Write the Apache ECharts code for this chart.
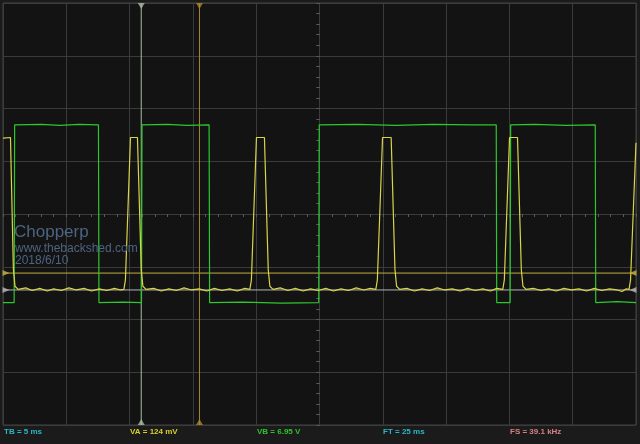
<!DOCTYPE html>
<html><head><meta charset="utf-8">
<script src="https://cdn.jsdelivr.net/npm/echarts@6/dist/echarts.min.js"></script>
<style>html,body{margin:0;padding:0;background:#1b1b1b;}#c{width:640px;height:444px;}</style>
</head><body><div id="c"></div>
<script>
// time in ms (5 ms/div, trigger at centre), amplitude in divisions
const chA = [ // yellow trace
  [-25,1.44],[-24.41,1.45],[-24.18,-1.05],[-24.05,-1.37],[-23.8,-1.43],
  [-23.2,-1.40],[-22.7,-1.45],[-22.1,-1.41],[-21.5,-1.46],[-21.0,-1.42],[-20.4,-1.45],[-19.8,-1.40],
  [-19.2,-1.44],[-18.6,-1.41],[-18.0,-1.46],[-17.4,-1.42],[-16.8,-1.45],[-16.2,-1.41],[-15.7,-1.44],
  [-15.45,-1.43],[-15.33,-1.25],[-14.93,1.45],[-14.38,1.45],[-14.08,-1.05],[-13.95,-1.37],[-13.7,-1.43],
  [-13.1,-1.41],[-12.5,-1.46],[-11.9,-1.42],[-11.3,-1.45],[-10.7,-1.40],[-10.1,-1.44],[-9.5,-1.42],
  [-8.9,-1.46],[-8.3,-1.41],[-7.7,-1.45],[-7.1,-1.42],[-6.5,-1.46],[-5.9,-1.41],
  [-5.5,-1.43],[-5.38,-1.25],[-4.98,1.45],[-4.35,1.45],[-4.05,-1.05],[-3.92,-1.37],[-3.67,-1.43],
  [-3.1,-1.40],[-2.5,-1.45],[-1.9,-1.41],[-1.3,-1.46],[-0.7,-1.42],[-0.1,-1.45],[0.5,-1.41],
  [1.1,-1.46],[1.7,-1.42],[2.3,-1.45],[2.9,-1.40],[3.5,-1.44],[4.0,-1.41],
  [4.45,-1.43],[4.57,-1.25],[4.98,1.45],[5.66,1.45],[5.96,-1.05],[6.09,-1.37],[6.34,-1.43],
  [6.9,-1.41],[7.5,-1.46],[8.1,-1.42],[8.7,-1.45],[9.3,-1.40],[9.9,-1.44],[10.5,-1.42],
  [11.1,-1.46],[11.7,-1.41],[12.3,-1.45],[12.9,-1.42],[13.5,-1.46],[14.0,-1.41],
  [14.48,-1.43],[14.6,-1.25],[15.01,1.45],[15.64,1.45],[15.94,-1.05],[16.07,-1.37],[16.32,-1.43],
  [16.9,-1.41],[17.5,-1.45],[18.1,-1.42],[18.7,-1.46],[19.3,-1.41],[19.9,-1.44],[20.5,-1.42],
  [21.1,-1.46],[21.7,-1.41],[22.3,-1.45],[22.9,-1.42],[23.5,-1.44],[23.9,-1.47],[24.2,-1.42],
  [24.45,-1.43],[24.57,-1.25],[25,1.35]
];
const chB = [ // green trace
  [-25,-1.68],[-24.12,-1.68],[-24.08,1.69],[-22,1.70],[-20.5,1.68],[-19,1.70],[-17.46,1.69],
  [-17.42,-1.68],[-15.5,-1.67],[-14.06,-1.68],[-14.02,1.69],[-12,1.70],[-10.5,1.68],[-8.72,1.69],
  [-8.68,-1.68],[-6,-1.67],[-3,-1.69],[-0.06,-1.68],[-0.02,1.69],[3,1.70],[6,1.68],[9,1.70],[12,1.69],
  [13.96,1.69],[14.0,-1.68],[15.06,-1.68],[15.1,1.69],[17,1.70],[19.5,1.68],[21.78,1.69],
  [21.82,-1.68],[23.5,-1.66],[25,-1.68]
];
const cursorA = -14.08, cursorB = -9.48;
const trigLevel = -1.12, refLevel = -1.44;
const xRange = [-25, 25], yRange = [-4, 4];
const statusTexts = [
  {t:'TB = 5 ms', c:'#2ab8c6'},
  {t:'VA = 124 mV', c:'#d8cf2a'},
  {t:'VB = 6.95 V', c:'#2cc42c'},
  {t:'FT = 25 ms', c:'#2ab8c6'},
  {t:'FS = 39.1 kHz', c:'#d88080'}
];
const watermark = ['Chopperp','www.thebackshed.com','2018/6/10'];

const GRID = '#3b3b3b', TICK = '#5a5a5a';
const chart = echarts.init(document.getElementById('c'), null, {renderer:'canvas'});
function xAx(inside, pos, main){
  return {type:'value', min:xRange[0], max:xRange[1], interval:5, position:pos,
    axisLine:{show:main, onZero:true, lineStyle:{color:GRID}},
    axisTick:{show:true, inside:inside, length:3, lineStyle:{color:TICK}},
    minorTick:{show:true, splitNumber:5, length:3, lineStyle:{color:TICK}},
    axisLabel:{show:false}, splitLine:{show:main, lineStyle:{color:GRID, width:1}}};
}
function yAx(inside, pos, main){
  return {type:'value', min:yRange[0], max:yRange[1], interval:1, position:pos,
    axisLine:{show:main, onZero:true, lineStyle:{color:GRID}},
    axisTick:{show:true, inside:inside, length:3, lineStyle:{color:TICK}},
    minorTick:{show:true, splitNumber:5, length:3, lineStyle:{color:TICK}},
    axisLabel:{show:false}, splitLine:{show:main, lineStyle:{color:GRID, width:1}}};
}
const tri = {
  down:'path://M0,0L10,0L5,9Z', up:'path://M5,0L10,9L0,9Z',
  right:'path://M0,0L9,5L0,10Z', left:'path://M9,0L0,5L9,10Z'
};
function hLine(level, color){
  return {type:'line', data:[[xRange[0],level],[xRange[1],level]], symbol:'none', silent:true,
    lineStyle:{color:color, width:1}, z:2, animation:false};
}
function vLine(x, color){
  return {type:'line', data:[[x,yRange[0]],[x,yRange[1]]], symbol:'none', silent:true,
    lineStyle:{color:color, width:1}, z:2, animation:false};
}
function mark(pt, sym, off, color){
  return {type:'scatter', data:[pt], symbol:sym, symbolSize:[7,6], symbolOffset:off,
    itemStyle:{color:color}, clip:false, silent:true, z:6, animation:false};
}
const series = [
  hLine(refLevel, '#b4b4b4'),
  hLine(trigLevel, '#c2ae3c'),
  vLine(cursorA, '#a6bca0'),
  vLine(cursorB, '#a8872c'),
  {type:'line', data:chB, symbol:'none', lineStyle:{color:'#2ec82e', width:1.2}, z:4, animation:false},
  {type:'line', data:chA, symbol:'none', lineStyle:{color:'#dad448', width:1.2}, z:5, animation:false},
  mark([cursorA, yRange[1]], tri.down, [0,3], '#a6bca0'),
  mark([cursorA, yRange[0]], tri.up, [0,-3], '#a6bca0'),
  mark([cursorB, yRange[1]], tri.down, [0,3], '#a8872c'),
  mark([cursorB, yRange[0]], tri.up, [0,-3], '#a8872c'),
  mark([xRange[0], trigLevel], tri.right, [3,0], '#c2ae3c'),
  mark([xRange[0], refLevel], tri.right, [3,0], '#b4b4b4'),
  mark([xRange[1], trigLevel], tri.left, [-3,0], '#c2ae3c'),
  mark([xRange[1], refLevel], tri.left, [-3,0], '#b4b4b4')
];
const statusX = [4,130,257,383,510];
const graphics = statusTexts.map((s,i)=>({type:'text', left:statusX[i], top:428, z:10,
  style:{text:s.t, fill:s.c, font:'bold 8px "Liberation Sans", Arial, sans-serif'}}));
graphics.push({type:'text', x:14, y:232, z:10, style:{text:watermark[0], fill:'#4d6482', font:'17px "Liberation Sans", Arial, sans-serif', verticalAlign:'middle'}});
graphics.push({type:'text', x:15, y:249, z:10, style:{text:watermark[1], fill:'#4d6482', font:'12px "Liberation Sans", Arial, sans-serif', verticalAlign:'middle'}});
graphics.push({type:'text', x:15, y:261, z:10, style:{text:watermark[2], fill:'#4d6482', font:'12px "Liberation Sans", Arial, sans-serif', verticalAlign:'middle'}});

chart.setOption({
  backgroundColor:'#1b1b1b',
  animation:false,
  grid:{left:3, right:4, top:3, bottom:19, show:true, backgroundColor:'#131313', borderColor:'#454545', borderWidth:1},
  xAxis:[xAx(false,'bottom',true), xAx(true,'top',false)],
  yAxis:[yAx(false,'left',true), yAx(true,'right',false)],
  series: series,
  graphic: graphics
});
</script></body></html>
